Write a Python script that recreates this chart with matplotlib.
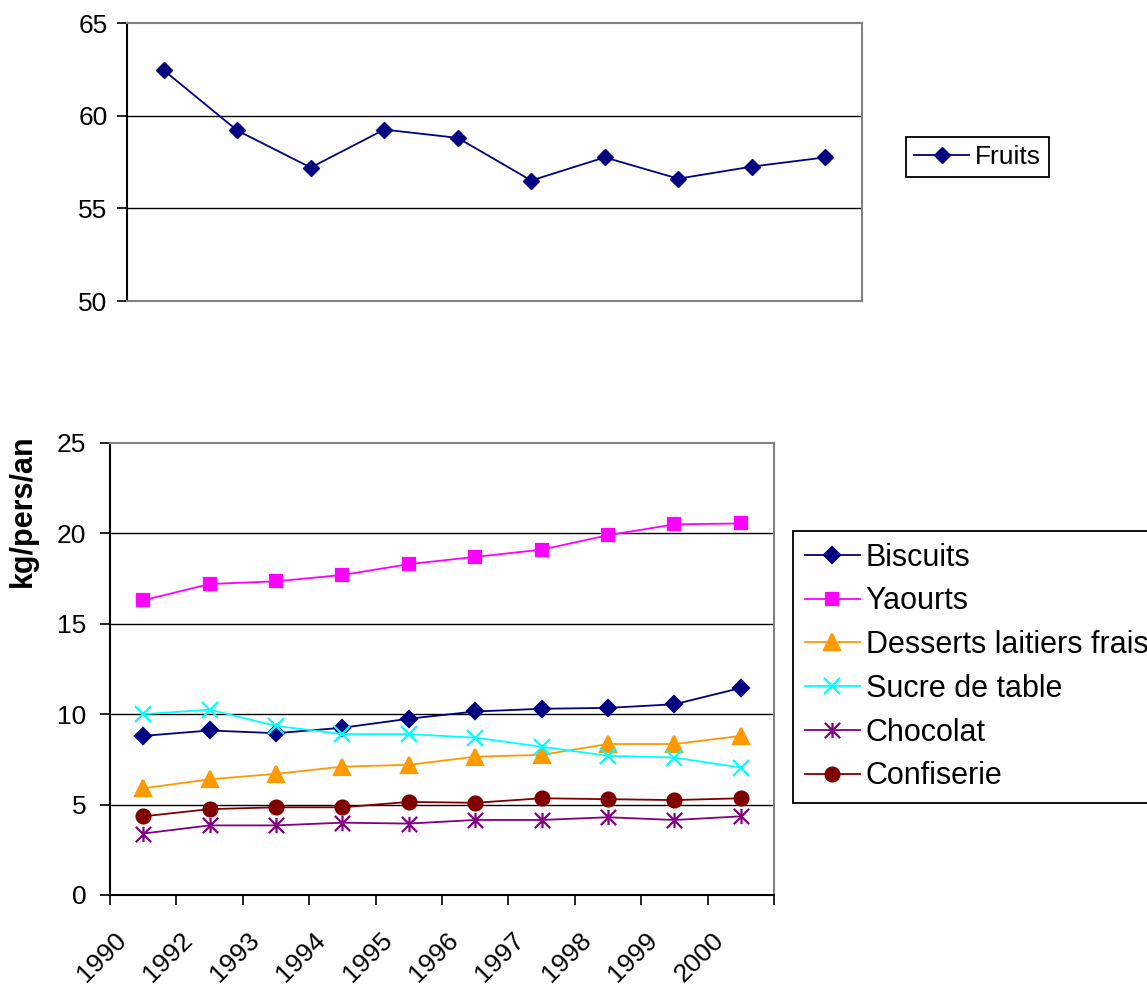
import numpy as np
import matplotlib
matplotlib.use("Agg")
from matplotlib import pyplot as plt
from matplotlib.path import Path
from matplotlib.transforms import ScaledTranslation

plt.rcParams['font.family'] = ['Liberation Sans', 'DejaVu Sans']

years = ['1990', '1992', '1993', '1994', '1995', '1996', '1997', '1998', '1999', '2000']

fruits = [62.45, 59.2, 57.2, 59.25, 58.8, 56.5, 57.75, 56.6, 57.25, 57.75]

biscuits = [8.8, 9.1, 8.95, 9.25, 9.75, 10.15, 10.3, 10.35, 10.55, 11.45]
yaourts = [16.3, 17.2, 17.35, 17.7, 18.3, 18.7, 19.1, 19.9, 20.5, 20.55]
desserts = [5.9, 6.4, 6.7, 7.1, 7.2, 7.65, 7.75, 8.35, 8.35, 8.8]
sucre = [10.0, 10.25, 9.35, 8.9, 8.9, 8.7, 8.2, 7.7, 7.6, 7.05]
chocolat = [3.4, 3.85, 3.85, 4.0, 3.95, 4.15, 4.15, 4.3, 4.15, 4.35]
confiserie = [4.35, 4.75, 4.85, 4.85, 5.15, 5.1, 5.35, 5.3, 5.25, 5.35]

# asterisk marker (vertical bar + X), like the spreadsheet one
star = Path([(0, -1), (0, 1), (-1, -1), (1, 1), (-1, 1), (1, -1)],
            [Path.MOVETO, Path.LINETO] * 3)

series = [
    ('Biscuits', biscuits, '#000080', 'D', 8.5),
    ('Yaourts', yaourts, '#FF00FF', 's', 9),
    ('Desserts laitiers frais', desserts, '#FF9900', '^', 11),
    ('Sucre de table', sucre, '#00FFFF', 'x', 11),
    ('Chocolat', chocolat, '#800080', star, 11),
    ('Confiserie', confiserie, '#800000', 'o', 10),
]

GRAY = '#808080'
x = np.arange(len(years))

fig = plt.figure(figsize=(11.47, 9.89), dpi=100)

# ---- top chart: fruits
ax1 = fig.add_axes([127 / 1147, 1 - 301 / 989, 735 / 1147, 278 / 989])
ax1.plot(x, fruits, color='#000080', marker='D', ms=8.5, lw=1.3, label='Fruits')
ax1.set_xlim(-0.5, len(years) - 0.5)
ax1.set_ylim(50, 65)
ax1.set_yticks([50, 55, 60, 65])
ax1.set_xticks([])
ax1.tick_params(axis='y', labelsize=19, length=7, width=1.2, pad=7)
for v in [55, 60]:
    ax1.axhline(v, color='black', lw=1.0, zorder=0.5)
ax1.spines['left'].set_color('black')
ax1.spines['left'].set_linewidth(1.5)
for s in ['top', 'right', 'bottom']:
    ax1.spines[s].set_color(GRAY)
    ax1.spines[s].set_linewidth(1.5)
leg1 = ax1.legend(loc='upper left', bbox_to_anchor=(906 / 1147, 1 - 137 / 989),
                  bbox_transform=fig.transFigure, fontsize=19, frameon=True,
                  fancybox=False, edgecolor='black', framealpha=1,
                  handlelength=2.1, handletextpad=0.2, borderpad=0.3,
                  borderaxespad=0)
leg1.get_frame().set_linewidth(1.3)

# ---- bottom chart
ax2 = fig.add_axes([110 / 1147, 1 - 895 / 989, 664 / 1147, 452 / 989])
for name, vals, col, mk, ms in series:
    ax2.plot(x, vals, color=col, marker=mk, ms=ms, lw=1.3, mew=1.6, label=name)
ax2.set_xlim(-0.5, len(years) - 0.5)
ax2.set_ylim(0, 25)
ax2.set_yticks([0, 5, 10, 15, 20, 25])
for v in [5, 10, 15, 20]:
    ax2.axhline(v, color='black', lw=1.0, zorder=0.5)
ax2.spines['left'].set_color('black')
ax2.spines['bottom'].set_color('black')
for s in ['left', 'bottom']:
    ax2.spines[s].set_linewidth(1.5)
for s in ['top', 'right']:
    ax2.spines[s].set_color(GRAY)
    ax2.spines[s].set_linewidth(1.5)

# tick marks between categories, labels at category centres
ax2.set_xticks(np.arange(len(years) + 1) - 0.5)
ax2.set_xticklabels([])
ax2.set_xticks(x, minor=True)
ax2.set_xticklabels(years, minor=True, rotation=45, ha='right', va='top')
ax2.tick_params(axis='x', which='major', length=7, width=1.2, direction='out')
ax2.tick_params(axis='x', which='minor', length=0, labelsize=19, pad=24)
ax2.tick_params(axis='y', labelsize=19, length=7, width=1.2, pad=10)
shift = ScaledTranslation(-0.12, 0, fig.dpi_scale_trans)
for lab in ax2.get_xticklabels(minor=True):
    lab.set_transform(lab.get_transform() + shift)

ax2.set_ylabel('kg/pers/an', fontsize=22, fontweight='bold')
ax2.yaxis.set_label_coords(-0.108, 0.85)

leg2 = ax2.legend(loc='upper left', bbox_to_anchor=(793 / 1147, 1 - 531 / 989),
                  bbox_transform=fig.transFigure, fontsize=22, frameon=True,
                  fancybox=False, edgecolor='black', framealpha=1,
                  handlelength=1.8, handletextpad=0.2, borderpad=0.38,
                  labelspacing=0.45, borderaxespad=0)
leg2.get_frame().set_linewidth(1.3)

fig.savefig('out.png', dpi=100)
